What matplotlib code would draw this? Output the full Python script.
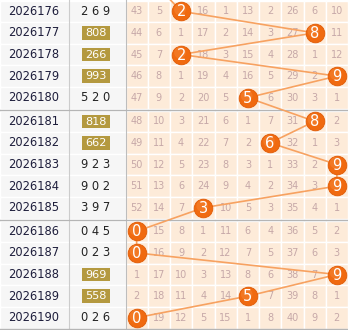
import numpy as np
import matplotlib
matplotlib.use("Agg")
import matplotlib.pyplot as plt
from matplotlib.patches import Rectangle

# data
issues = ["2026176", "2026177", "2026178", "2026179", "2026180",
          "2026181", "2026182", "2026183", "2026184", "2026185",
          "2026186", "2026187", "2026188", "2026189", "2026190"]
draws = ["269", "808", "266", "993", "520",
         "818", "662", "923", "902", "397",
         "045", "023", "969", "558", "026"]
# rows where the draw has a repeated digit (shown on a gold badge)
badge = [False, True, True, True, False,
         True, True, False, False, False,
         False, False, True, True, False]
# hundreds digit (circled)
hundreds = [2, 8, 2, 9, 5, 8, 6, 9, 9, 3, 0, 0, 9, 5, 0]
prev_hundreds = 1  # issue before 2026176, only its line shows
# omission counts for digits 0..9 (circled cell left as None)
miss = [
    [43, 5, None, 16, 1, 13, 2, 26, 6, 10],
    [44, 6, 1, 17, 2, 14, 3, 27, None, 11],
    [45, 7, None, 18, 3, 15, 4, 28, 1, 12],
    [46, 8, 1, 19, 4, 16, 5, 29, 2, None],
    [47, 9, 2, 20, 5, None, 6, 30, 3, 1],
    [48, 10, 3, 21, 6, 1, 7, 31, None, 2],
    [49, 11, 4, 22, 7, 2, None, 32, 1, 3],
    [50, 12, 5, 23, 8, 3, 1, 33, 2, None],
    [51, 13, 6, 24, 9, 4, 2, 34, 3, None],
    [52, 14, 7, None, 10, 5, 3, 35, 4, 1],
    [None, 15, 8, 1, 11, 6, 4, 36, 5, 2],
    [None, 16, 9, 2, 12, 7, 5, 37, 6, 3],
    [1, 17, 10, 3, 13, 8, 6, 38, 7, None],
    [2, 18, 11, 4, 14, None, 7, 39, 8, 1],
    [None, 19, 12, 5, 15, 1, 8, 40, 9, 2],
]

# layout in pixels
W, H = 348, 330
row_h = 21.6
gap = 2.0
x_issue_end = 68.5
x_num_end = 125.5
cell_w = (W - x_num_end) / 10

def row_top(i):
    return 0.5 + i * row_h + (i // 5) * gap

def row_mid(i):
    return row_top(i) + row_h / 2

def col_mid(d):
    return x_num_end + cell_w * (d + 0.5)

fig = plt.figure(figsize=(W / 100, H / 100), dpi=100)
ax = fig.add_axes([0, 0, 1, 1])
ax.set_xlim(0, W)
ax.set_ylim(H, 0)
ax.axis("off")
fig.patch.set_facecolor("white")

peach = "#fdebd9"
left_bg = "#f6f6f6"
miss_col = "#c6a8a8"

n = len(issues)
for i in range(n):
    top = row_top(i)
    # left side cells
    ax.add_patch(Rectangle((0, top), x_num_end, row_h, facecolor=left_bg,
                           edgecolor="white", lw=1.0))
    ax.text(34, row_mid(i), issues[i], ha="center", va="center",
            fontsize=8.3, color="#1e1e3c")
    if badge[i]:
        ax.add_patch(Rectangle((82, row_mid(i) - 6.8), 28, 13.6,
                               facecolor="#b4993f", edgecolor="none"))
        ax.text(96, row_mid(i) + 0.3, draws[i], ha="center", va="center",
                fontsize=8.1, color="white")
    else:
        ax.text(96, row_mid(i), " ".join(draws[i]), ha="center", va="center",
                fontsize=8.3, color="#222222")
    # digit cells
    for d in range(10):
        ax.add_patch(Rectangle((x_num_end + d * cell_w, top), cell_w, row_h,
                               facecolor=peach, edgecolor="white", lw=1.0))
        if miss[i][d] is not None:
            ax.text(col_mid(d), row_mid(i), str(miss[i][d]), ha="center",
                    va="center", fontsize=7, color=miss_col)

# vertical dividers on the left
ax.plot([x_issue_end, x_issue_end], [0, H], color="#cccccc", lw=0.8)
ax.plot([x_num_end, x_num_end], [0, H], color="#bdbdbd", lw=0.8)

# group separators and bottom edge
for g in (1, 2):
    y = row_top(5 * g) - gap / 2
    ax.plot([0, W], [y, y], color="#b5b5b5", lw=1.0)
ax.plot([0, W], [329.2, 329.2], color="#b5b5b5", lw=1.0)

# trend line through the circled digits
xs = [col_mid(prev_hundreds)] + [col_mid(v) for v in hundreds]
ys = [row_mid(-1)] + [row_mid(i) for i in range(n)]
ax.plot(xs, ys, color="#f7a261", lw=1.2, zorder=3, solid_capstyle="round")

# circles
cx = [col_mid(v) for v in hundreds]
cy = [row_mid(i) for i in range(n)]
ax.scatter(cx, cy, s=180, color="#f06a10", edgecolors="#e05a05",
           linewidths=0.6, zorder=4)
ax.scatter([x - 1.2 for x in cx], [y - 1.8 for y in cy], s=70,
           color="#f89448", edgecolors="none", alpha=0.35, zorder=4)
for x, y, v in zip(cx, cy, hundreds):
    ax.text(x, y + 0.5, str(v), ha="center", va="center", fontsize=10.5,
            color="white", zorder=5)

fig.savefig("out.png", dpi=100)
